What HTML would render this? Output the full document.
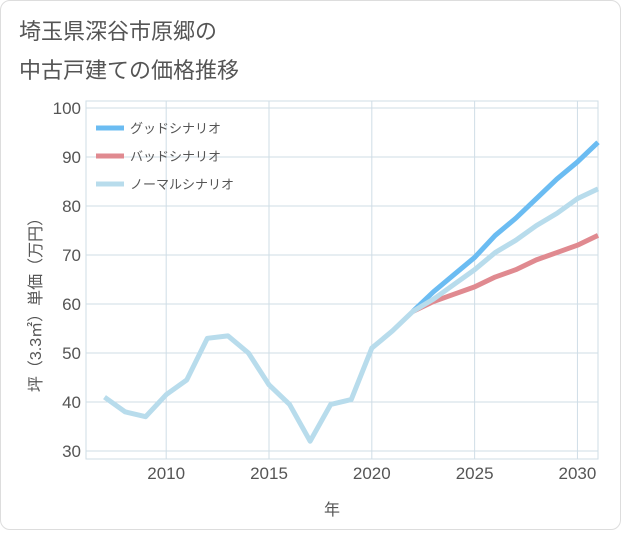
<!DOCTYPE html>
<html><head><meta charset="utf-8"><style>
body{margin:0;background:#fff;font-family:"Liberation Sans","Noto Sans CJK JP",sans-serif;}
#card{position:absolute;left:0;top:0;width:619px;height:528px;border:1px solid #ddd;border-radius:10px;background:#fff;}
</style></head><body>
<div id="card">
<svg id="chart" width="621" height="530">
<text x="18" y="38" font-size="22" fill="#555">埼玉県深谷市原郷の</text>
<text x="18" y="77" font-size="22" fill="#555">中古戸建ての価格推移</text>
<g id="grid"></g><g id="series"></g><g id="legend"></g>
<text x="331" y="514" font-size="16" fill="#555" text-anchor="middle">年</text>
<text transform="translate(40,300) rotate(-90)" font-size="16" fill="#555" text-anchor="middle">坪（3.3㎡）単価（万円）</text>
</svg></div>
<script>
const years=[2007,2008,2009,2010,2011,2012,2013,2014,2015,2016,2017,2018,2019,2020,2021,2022,2023,2024,2025,2026,2027,2028,2029,2030,2031];
const normal=[41,38,37,41.5,44.5,53,53.5,50,43.5,39.5,32,39.5,40.5,51,54.5,58.5,61,64,67,70.5,73,76,78.5,81.5,83.5];
const futYears=[2022,2023,2024,2025,2026,2027,2028,2029,2030,2031];
const good=[58.5,62.5,66,69.5,74,77.5,81.5,85.5,89,93];
const bad=[58.5,60.5,62,63.5,65.5,67,69,70.5,72,74];
const xTicks=[2010,2015,2020,2025,2030];
const yTicks=[30,40,50,60,70,80,90,100];
const L=85,R=597,T=100,B=458;
const x=v=>L+(v-2006.1)*(R-L)/(2031-2006.1);
const y=v=>450-(v-30)*(450-107)/70;
const ns="http://www.w3.org/2000/svg";
function mk(t,a,p){const e=document.createElementNS(ns,t);for(const k in a)e.setAttribute(k,a[k]);p.appendChild(e);return e;}
const g=document.getElementById('grid');
let r=mk('rect',{x:L,y:T,width:R-L,height:B-T,fill:'none',stroke:'#cfdde6'},g);

xTicks.forEach(v=>{let l=mk('line',{x1:x(v),x2:x(v),y1:T,y2:B,stroke:'#cfdde6'},g);

let t=mk('text',{x:x(v),y:B+20,'font-size':17,fill:'#555','text-anchor':'middle'},g);t.textContent=v;
});
yTicks.forEach(v=>{let l=mk('line',{x1:L,x2:R,y1:y(v),y2:y(v),stroke:'#cfdde6'},g);

let t=mk('text',{x:L-5,y:y(v)+6,'font-size':17,fill:'#555','text-anchor':'end'},g);t.textContent=v;
});
const s=document.getElementById('series');
function line(xs,ys,c,n){let p=mk('polyline',{points:xs.map((v,i)=>x(v)+','+y(ys[i])).join(' '),fill:'none',stroke:c,'stroke-width':5,'stroke-linejoin':'round'},s);
}
line(futYears,bad,'#e08a90','bad-scenario-line');
line(futYears,good,'#6bbcf2','good-scenario-line');
line(years,normal,'#b8dcec','normal-scenario-line');
const lg=document.getElementById('legend');
[['グッドシナリオ','#6bbcf2'],['バッドシナリオ','#e08a90'],['ノーマルシナリオ','#b8dcec']].forEach((d,i)=>{
let yy=127+i*28;let l=mk('line',{x1:95,x2:123,y1:yy,y2:yy,stroke:d[1],'stroke-width':5},lg);

let t=mk('text',{x:129,y:yy+5,'font-size':13,fill:'#555'},lg);t.textContent=d[0];
});
</script></body></html>
